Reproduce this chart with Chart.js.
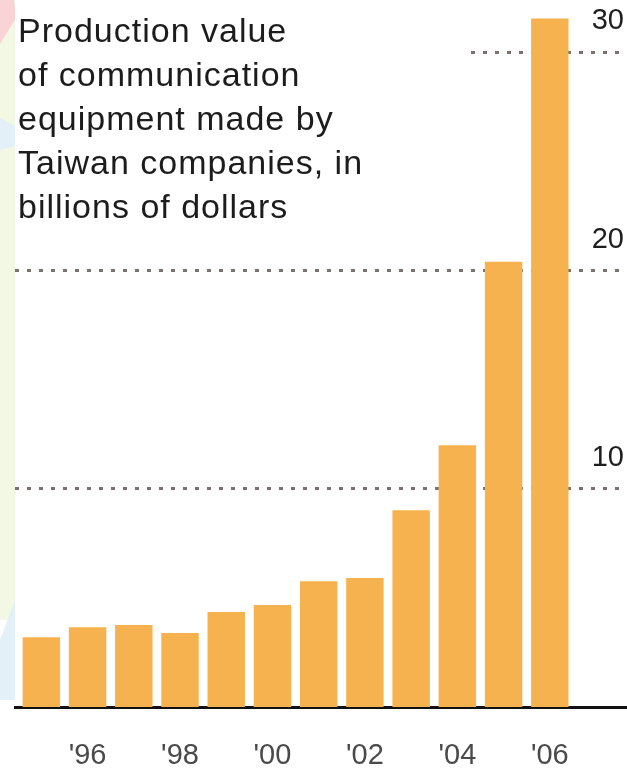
<!DOCTYPE html>
<html>
<head>
<meta charset="utf-8">
<script src="https://cdn.jsdelivr.net/npm/chart.js@4/dist/chart.umd.min.js"></script>
<style>
  html, body { margin: 0; padding: 0; background: #fff; }
  canvas { display: block; }
</style>
</head>
<body>
<canvas id="chart" width="627" height="768"></canvas>
<script>
// Production value of communication equipment, billions of US dollars
const years = [1995, 1996, 1997, 1998, 1999, 2000, 2001, 2002, 2003, 2004, 2005, 2006];
const values = [3.2, 3.66, 3.76, 3.39, 4.35, 4.67, 5.76, 5.91, 9.02, 12.0, 20.4, 31.55];

const tickYears = [1996, 1998, 2000, 2002, 2004, 2006];
const tickLabels = ["'96", "'98", "'00", "'02", "'04", "'06"];
const valueTicks = [10, 20, 30];

const titleLines = [
  'Production value',
  'of communication',
  'equipment made by',
  'Taiwan companies, in',
  'billions of dollars'
];

const BAR = '#f6b24f';
const FONT = '"Liberation Sans", Arial, Helvetica, sans-serif';

// Page background with the faint coloured strip along the left edge
const backdrop = {
  id: 'backdrop',
  beforeDraw(chart) {
    const ctx = chart.ctx;
    ctx.save();
    ctx.fillStyle = '#ffffff';
    ctx.fillRect(0, 0, chart.width, chart.height);
    ctx.fillStyle = '#f2f8e3';
    ctx.fillRect(0, 0, 15, 620);
    ctx.fillStyle = '#f9d3d6';
    ctx.beginPath();
    ctx.moveTo(0, 0); ctx.lineTo(14, 0); ctx.lineTo(16, 18); ctx.lineTo(0, 44);
    ctx.closePath(); ctx.fill();
    ctx.fillStyle = '#e4f0f8';
    ctx.beginPath();
    ctx.moveTo(0, 118); ctx.lineTo(15, 126); ctx.lineTo(15, 146); ctx.lineTo(0, 150);
    ctx.closePath(); ctx.fill();
    ctx.beginPath();
    ctx.moveTo(0, 640); ctx.lineTo(15, 600); ctx.lineTo(15, 700); ctx.lineTo(0, 700);
    ctx.closePath(); ctx.fill();
    ctx.restore();
  }
};

// Headline block in the upper left, on a white panel
const headline = {
  id: 'headline',
  afterDraw(chart) {
    const ctx = chart.ctx;
    ctx.save();
    ctx.fillStyle = '#ffffff';
    ctx.fillRect(15, 0, 453, 232);
    ctx.fillStyle = '#1c1c1c';
    ctx.font = '34px ' + FONT;
    if ('letterSpacing' in ctx) ctx.letterSpacing = '1px';
    ctx.textBaseline = 'alphabetic';
    ctx.textAlign = 'left';
    titleLines.forEach((line, i) => ctx.fillText(line, 18, 42 + i * 44));
    ctx.restore();
  }
};

new Chart(document.getElementById('chart'), {
  type: 'bar',
  data: {
    datasets: [{
      data: years.map((y, i) => ({ x: y, y: values[i] })),
      backgroundColor: BAR,
      borderWidth: 0,
      categoryPercentage: 1,
      barPercentage: 0.81
    }]
  },
  options: {
    responsive: false,
    animation: false,
    events: [],
    layout: { padding: { left: 15, right: 0, top: 0, bottom: 0 } },
    plugins: {
      legend: { display: false },
      tooltip: { enabled: false },
      title: { display: false }
    },
    scales: {
      x: {
        type: 'linear',
        min: 1994.43,
        max: 2007.67,
        offset: false,
        z: 1,
        afterBuildTicks(scale) {
          scale.ticks = tickYears.map(v => ({ value: v }));
        },
        afterFit(scale) {
          scale.height = 61;
          scale.paddingLeft = 0;
          scale.paddingRight = 0;
        },
        grid: { display: false, offset: false, drawTicks: false },
        border: { display: true, color: '#111111', width: 3 },
        ticks: {
          autoSkip: false,
          maxRotation: 0,
          padding: 32,
          color: '#4a4a4a',
          font: { family: FONT, size: 29 },
          callback: (v) => tickLabels[tickYears.indexOf(v)] ?? ''
        }
      },
      y: {
        type: 'linear',
        position: 'right',
        min: 0,
        max: 32.4,
        z: 1,
        afterBuildTicks(scale) {
          scale.ticks = valueTicks.map(v => ({ value: v }));
        },
        afterFit(scale) {
          scale.width = 0;
          scale.paddingTop = 0;
          scale.paddingBottom = 0;
        },
        grid: {
          drawTicks: false,
          lineWidth: 3,
          color: 'rgba(70,60,55,0.72)'
        },
        border: { display: false, dash: [4, 8] },
        ticks: {
          mirror: true,
          padding: -3,
          labelOffset: -31,
          color: '#1e1e1e',
          font: { family: FONT, size: 29 },
          callback: (v) => String(v)
        }
      }
    }
  },
  plugins: [backdrop, headline]
});
</script>
</body>
</html>
